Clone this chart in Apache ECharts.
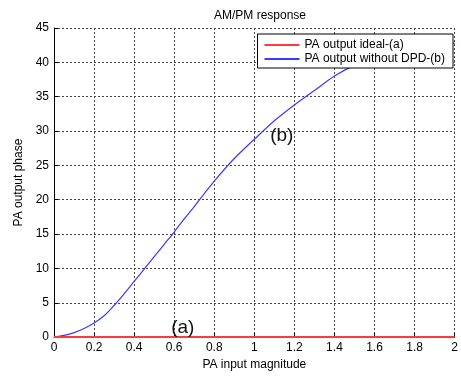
<!DOCTYPE html>
<html>
<head>
<meta charset="utf-8">
<script src="https://cdn.jsdelivr.net/npm/echarts@6/dist/echarts.min.js"></script>
<style>
  html, body { margin: 0; padding: 0; background: #fff; }
  #chart { width: 461px; height: 376px; }
</style>
</head>
<body>
<div id="chart"></div>
<script>
// input magnitude samples
const inputMag = [0, 0.05, 0.1, 0.15, 0.2, 0.25, 0.3, 0.35, 0.4, 0.45, 0.5, 0.55, 0.6, 0.65, 0.7,
  0.8, 0.9, 1.0, 1.1, 1.2, 1.3, 1.4, 1.5, 1.6, 1.7, 1.8, 1.9, 2.0];
// ideal PA: flat phase
const idealPhase = [0, 0, 0, 0, 0, 0, 0, 0, 0, 0, 0, 0, 0, 0, 0,
  0, 0, 0, 0, 0, 0, 0, 0, 0, 0, 0, 0, 0];
// PA without DPD
const noDpdPhase = [0, 0.25, 0.65, 1.25, 2.05, 3.1, 4.6, 6.3, 8.1, 9.9, 11.7, 13.5, 15.3, 17.2, 19.0,
  22.7, 26.0, 28.8, 31.5, 33.8, 35.9, 38.0, 39.6, 40.8, 41.7, 42.3, 42.6, 42.8];
// text labels on the plot
const notes = [
  { name: '(a)', value: [0.643, 1.4] },
  { name: '(b)', value: [1.137, 29.3] }
];

const font = 'Liberation Sans, Arial, sans-serif';
const pair = (xs, ys) => xs.map((x, i) => [x, ys[i]]);

const chart = echarts.init(document.getElementById('chart'));
chart.setOption({
  animation: false,
  backgroundColor: '#fff',
  title: {
    text: 'AM/PM response',
    left: 255,
    top: 5,
    textAlign: 'center',
    textStyle: { fontFamily: font, fontSize: 12, fontWeight: 'normal', color: '#000' }
  },
  grid: { left: 54, right: 4, top: 28, bottom: 34 },
  legend: {
    data: ['PA output ideal-(a)', 'PA output without DPD-(b)'],
    orient: 'vertical',
    right: 8,
    top: 34,
    padding: [5, 8, 3, 6],
    itemGap: 2,
    itemWidth: 35,
    itemHeight: 14,
    backgroundColor: '#fff',
    borderColor: '#000',
    borderWidth: 1,
    borderRadius: 0,
    itemStyle: { opacity: 0 },
    textStyle: { fontFamily: font, fontSize: 12, color: '#000' }
  },
  xAxis: {
    type: 'value',
    min: 0,
    max: 2,
    interval: 0.2,
    name: 'PA input magnitude',
    nameLocation: 'middle',
    nameGap: 19,
    nameTextStyle: { fontFamily: font, fontSize: 12, color: '#000' },
    axisLine: { lineStyle: { color: '#000', width: 1 } },
    axisTick: { inside: true, length: 4, lineStyle: { color: '#000' } },
    axisLabel: { fontFamily: font, fontSize: 12, color: '#000', margin: 5 },
    splitLine: { show: true, lineStyle: { color: '#444', type: [2, 2], width: 1 } }
  },
  yAxis: {
    type: 'value',
    min: 0,
    max: 45,
    interval: 5,
    name: 'PA output phase',
    nameLocation: 'middle',
    nameGap: 24,
    nameTextStyle: { fontFamily: font, fontSize: 12, color: '#000' },
    axisLine: { show: true, lineStyle: { color: '#000', width: 1 } },
    axisTick: { show: true, inside: true, length: 4, lineStyle: { color: '#000' } },
    axisLabel: { fontFamily: font, fontSize: 12, color: '#000', margin: 5 },
    splitLine: { show: true, lineStyle: { color: '#444', type: [2, 2], width: 1 } }
  },
  series: [
    {
      name: 'PA output without DPD-(b)',
      type: 'line',
      symbol: 'none',
      smooth: 0.3,
      z: 2,
      lineStyle: { color: '#3a3aff', width: 1.2 },
      itemStyle: { color: '#3a3aff' },
      data: pair(inputMag, noDpdPhase)
    },
    {
      name: 'PA output ideal-(a)',
      type: 'line',
      symbol: 'none',
      z: 3,
      lineStyle: { color: '#ff3a3a', width: 2 },
      itemStyle: { color: '#ff3a3a' },
      data: pair(inputMag, idealPhase)
    },
    {
      name: 'notes',
      type: 'scatter',
      symbolSize: 0,
      z: 4,
      silent: true,
      itemStyle: { opacity: 1 },
      label: {
        show: true,
        position: 'inside',
        formatter: p => p.name,
        fontFamily: font,
        fontSize: 19,
        color: '#111',
        opacity: 1
      },
      data: notes
    }
  ]
});
</script>
</body>
</html>
